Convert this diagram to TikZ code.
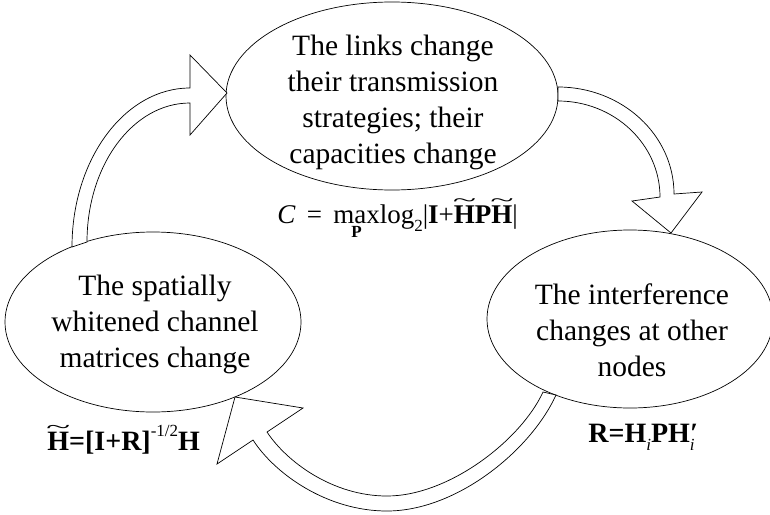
\documentclass[tikz,border=0pt]{standalone}
\usepackage{fontspec}
\setmainfont{Liberation Serif}
\usetikzlibrary{shapes.geometric}
\newcommand\tlH{{\ooalign{\textbf{H}\cr\hidewidth\raisebox{0.6em}{\scalebox{1.6}[0.7]{\mdseries\char"7E}}\hidewidth\cr}}}
\newcommand\smallfs{\fontsize{17}{17}\selectfont}
\newcommand\maxP{\vtop{\offinterlineskip\halign{\hfil##\hfil\cr max\cr\noalign{\kern3pt}{\smallfs\bfseries P}\cr}}}
\begin{document}
\begin{tikzpicture}[x=1pt,y=-1pt, line width=0.7pt,
  bubble/.style={ellipse, draw, inner sep=0},
  lbl/.style={align=center, inner sep=0, font=\fontsize{29.5}{36}\selectfont},
  eq/.style={inner sep=0, anchor=base west, font=\fontsize{28}{34}\selectfont},
  blockarrow/.style={draw, fill=white, line join=miter}]
\useasboundingbox (0,0) rectangle (770,514);
\clip (0,0) rectangle (770,514);

\node[bubble, minimum width=332pt, minimum height=188pt] (top) at (392,96) {};
\node[bubble, minimum width=296pt, minimum height=180pt] (left) at (153,322) {};
\node[bubble, minimum width=286pt, minimum height=178pt] (right) at (630,319) {};

\node[lbl] (toptext) at (393,102) {The links change\\their transmission\\strategies; their\\capacities change};
\node[lbl] (lefttext) at (155,324) {The spatially\\whitened channel\\matrices change};
\node[lbl] (righttext) at (632,330) {The interference\\changes at other\\nodes};

% block arrows
\draw[blockarrow] (72,247) .. controls (72,159) and (125,88) .. (190,88) -- (190,55) -- (227,93) -- (190,135) -- (190,103) .. controls (133,103) and (87,165) .. (87,242) -- cycle;
\draw[blockarrow] (558,87) .. controls (622,87) and (674,135) .. (674,194) -- (702,192) -- (671,233) -- (632,201) -- (660,197) .. controls (660,144) and (614,101) .. (558,101) -- cycle;
\draw[blockarrow] (556,395) .. controls (531,450) and (457,511) .. (387,511) .. controls (327,511) and (275,474) .. (253,440) -- (217,464) -- (235,397) -- (303,408) -- (267,432) .. controls (286,461) and (332,496) .. (387,496) .. controls (449,496) and (521,440) .. (543,392) -- cycle;

% formulas
\node[eq, font=\fontsize{27}{34}\selectfont] (fcap) at (277,223) {\textit{C}\, =\, \maxP log\raisebox{-0.3em}{\smallfs 2}|\textbf{I}+\tlH\textbf{P}\tlH|};
\node[eq] (fwhite) at (47,450) {\tlH\textbf{=[I+R]}\raisebox{0.5em}{\smallfs -1/2}\textbf{H}};
\node[eq] (fint) at (588,442) {\textbf{R=H}\raisebox{-0.3em}{\smallfs\itshape i}\textbf{PH}\rlap{\raisebox{-0.3em}{\smallfs\itshape i}}{\bfseries\itshape\char"2032}};
\end{tikzpicture}
\end{document}
